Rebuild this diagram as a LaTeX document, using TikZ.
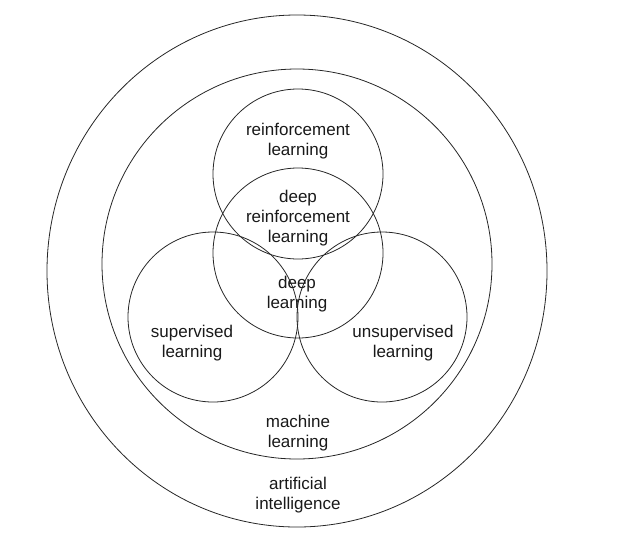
\documentclass[tikz,border=0pt]{standalone}
\usepackage{fontspec}
\setmainfont{Liberation Sans}
\begin{document}
\begin{tikzpicture}[
        x=1pt, y=-1pt,
        ring/.style={draw=black!85, line width=0.8pt},
        area/.style={align=center, inner sep=0pt, text=black!90,
          font=\fontsize{17}{20}\selectfont}
      ]
      \useasboundingbox (0,0) rectangle (617,557);

      % outer sets
      \draw[ring] (297,271) ellipse [x radius=250, y radius=256];
      \draw[ring] (297,264) circle [radius=195];

      % the four inner sets
      \draw[ring] (298,174) circle [radius=85];
      \draw[ring] (298,253) circle [radius=85];
      \draw[ring] (213,317) circle [radius=85];
      \draw[ring] (382,317) circle [radius=85];

      \node[area] (rl) at (298,141) {reinforcement\\learning};
      \node[area] (drl) at (298,218) {deep\\reinforcement\\learning};
      \node[area] (dl) at (297,294) {deep\\learning};
      \node[area] (sl) at (192,343) {supervised\\learning};
      \node[area] (ul) at (403,343) {unsupervised\\learning};
      \node[area] (ml) at (298,433) {machine\\learning};
      \node[area] (ai) at (298,495) {artificial\\intelligence};

    \end{tikzpicture}
\end{document}
